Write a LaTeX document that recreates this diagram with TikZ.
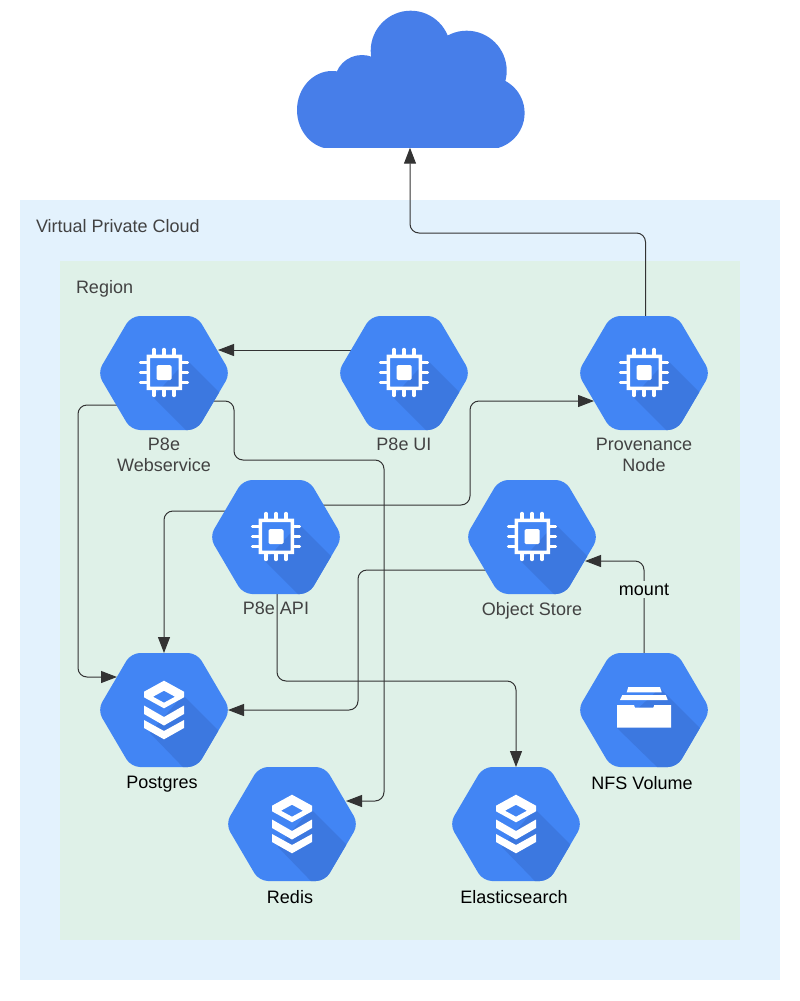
\documentclass[tikz,border=0pt]{standalone}
\usepackage{fontspec}
\setmainfont{Liberation Sans}
\usetikzlibrary{arrows.meta, positioning}
\definecolor{vpcblue}{HTML}{E3F2FD}
\definecolor{regiongreen}{HTML}{DFF1E8}
\definecolor{hexblue}{HTML}{4285F4}
\definecolor{hexshade}{HTML}{3C78E0}
\definecolor{cloudblue}{HTML}{477EE9}
\definecolor{linegray}{HTML}{333333}
\definecolor{textgray}{HTML}{424242}
\newcommand{\hexoutline}{(-66.5,0) -- (-33,-57) -- (33,-57) -- (66.5,0) -- (33,57) -- (-33,57) -- cycle}
\newcommand{\hexbase}[1]{%
  \fill[hexblue, rounded corners=9pt] \hexoutline;
  \begin{scope}
    \clip[rounded corners=9pt] \hexoutline;
    \fill[hexshade] #1;
  \end{scope}}
\tikzset{
  hexa/.style={rectangle, minimum width=128pt, minimum height=114pt, inner sep=0pt, outer sep=0pt},
  lbl/.style={inner sep=0pt, outer sep=0pt, align=center, text=textgray, font=\fontsize{18}{21}\selectfont},
  blacklbl/.style={lbl, text=black, xshift=-2pt},
  zone/.style={rectangle, anchor=north west, inner sep=0pt, outer sep=0pt},
  conn/.style={->, draw=linegray, line width=1pt, rounded corners=9pt},
  pics/chip/.style={code={
    \hexbase{(23,-13) -- (83,47) -- (49,84) -- (-11,24) -- cycle}
    \foreach \k in {-10,0,10} {
      \draw[white, line width=3.4pt, line cap=round] (\k,-23.5) -- (\k,-17);
      \draw[white, line width=3.4pt, line cap=round] (\k,22.5) -- (\k,17);
      \draw[white, line width=3.4pt, line cap=round] (-23.5,\k-0.5) -- (-17,\k-0.5);
      \draw[white, line width=3.4pt, line cap=round] (23.5,\k-0.5) -- (17,\k-0.5);
    }
    \fill[white, even odd rule] (-17.5,-18.5) rectangle (18,17) (-14,-15) rectangle (14.5,13.5);
    \fill[white, rounded corners=1.5pt] (-7.5,-8) rectangle (7.5,7);
  }},
  pics/stack/.style={code={
    \hexbase{(19,-15) -- (79,45) -- (45,84) -- (-14,23) -- cycle}
    \fill[white, even odd rule] (0,-29.3) -- (20,-18.3) -- (20,-12.7) -- (0,-1.7) -- (-20,-12.7) -- (-20,-18.3) -- cycle
      (0,-19.3) -- (11,-13.3) -- (0,-7.3) -- (-11,-13.3) -- cycle;
    \fill[white] (-20,-4.5) -- (0,7) -- (20,-4.5) -- (20,4) -- (0,15.5) -- (-20,4) -- cycle;
    \fill[white] (-20,10) -- (0,21) -- (20,10) -- (20,18) -- (0,29.3) -- (-20,18) -- cycle;
  }},
  pics/drawer/.style={code={
    \hexbase{(16,-22) -- (76,38) -- (44,87) -- (-27,18) -- cycle}
    \fill[white] (-15.7,-23) -- (16,-23) -- (17.7,-17.7) -- (-17.3,-17.7) -- cycle;
    \fill[white] (-21.7,-15) -- (21.7,-15) -- (23.7,-10) -- (-24,-10) -- cycle;
    \fill[white] (-27,-5) -- (-10,-5) -- (-9,-2.3) -- (9.3,-2.3) -- (10.3,-5) -- (27,-5) -- (27,17.7) -- (-27,17.7) -- cycle;
  }},
}
\begin{document}
\begin{tikzpicture}[x=1pt, y=-1pt, >={Triangle[length=16pt, width=12pt]}, node distance=112pt]
\useasboundingbox (0,0) rectangle (800,1001);
% zones
\node[zone, fill=vpcblue, minimum width=760pt, minimum height=780pt] (vpc) at (20,200) {};
\node[zone, fill=regiongreen, minimum width=680pt, minimum height=679pt] (region) at (60,261) {};
\node[lbl, anchor=west] (vpclbl) at (36,226.5) {Virtual Private Cloud};
\node[lbl, anchor=west] (regionlbl) at (76,289) {Region};
% cloud
\node[rectangle, fill=cloudblue, inner sep=0pt, outer sep=0pt, minimum width=156pt, minimum height=73pt] (cloud) at (410,111.2) {};
\begin{scope}
\clip (290,0) rectangle (530,147.7);
\fill[cloudblue] (332,110) ellipse (35 and 39);
\fill[cloudblue] (362,82.5) circle (27.5);
\fill[cloudblue] (410.7,50.7) circle (40);
\fill[cloudblue] (466.7,70.7) circle (40);
\fill[cloudblue] (488.3,113) circle (36.3);
\end{scope}
% hexagons
\node[hexa] (web) at (164,373) {};
\node[hexa, right=of web] (ui) {};
\node[hexa, right=of ui] (prov) {};
\node[hexa] (api) at (276,537) {};
\node[hexa] (store) at (532,537) {};
\node[hexa, below=223pt of web] (postgres) {};
\node[hexa, below=223pt of prov] (nfs) {};
\node[hexa] (redis) at (292,824) {};
\node[hexa] (elastic) at (516,824) {};
% connectors
\draw[conn] ([shift={(-51,-23)}]ui.center) -- ([shift={(54,-23)}]web.center);
\draw[conn] ([shift={(49,28)}]web.center) -- ++(21,0) -- ++(0,59) -- ++(150,0) -- ++(0,341) -- ([shift={(54,-23)}]redis.center);
\draw[conn] ([shift={(-46,32)}]web.center) -- ++(-40,0) -- ++(0,272) -- ([shift={(-47,-33)}]postgres.center);
\draw[conn] ([shift={(-50,-26)}]api.center) -- ++(-62,0) -- (postgres.north);
\draw[conn] ([shift={(47,-32)}]api.center) -- ++(147,0) -- ++(0,-104) -- ([shift={(-50,28)}]prov.center);
\draw[conn] (api.south) ++(1,0) -- ++(0,87) -- ++(239,0) -- (elastic.north);
\draw[conn] ([shift={(-46,33)}]store.center) -- ++(-128,0) -- ++(0,140) -- (postgres.east);
\draw[conn] (nfs.north) -- ++(0,-92) -- ([shift={(53,24)}]store.center);
\draw[conn] ([xshift=1.5pt]prov.north) -- ++(0,-83) -- ++(-235.5,0) -- (cloud.south);
% icons
\pic at (web) {chip};
\pic at (ui) {chip};
\pic at (prov) {chip};
\pic at (api) {chip};
\pic at (store) {chip};
\pic at (postgres) {stack};
\pic at (redis) {stack};
\pic at (elastic) {stack};
\pic at (nfs) {drawer};
% labels
\node[lbl, below=8pt of web] (weblbl) {P8e\\Webservice};
\node[lbl, below=8pt of ui] (uilbl) {P8e UI};
\node[lbl, below=8pt of prov] (provlbl) {Provenance\\Node};
\node[lbl, below=8pt of api] (apilbl) {P8e API};
\node[lbl, below=8pt of store] (storelbl) {Object Store};
\node[blacklbl, below=9pt of postgres] (postgreslbl) {Postgres};
\node[blacklbl, below=9pt of redis] (redislbl) {Redis};
\node[blacklbl, below=9pt of elastic] (elasticlbl) {Elasticsearch};
\node[blacklbl, below=9pt of nfs] (nfslbl) {NFS Volume};
\node[lbl, text=black, fill=regiongreen, inner xsep=2pt, inner ysep=3pt] (mountlbl) at (644,589.5) {mount};
\end{tikzpicture}
\end{document}
